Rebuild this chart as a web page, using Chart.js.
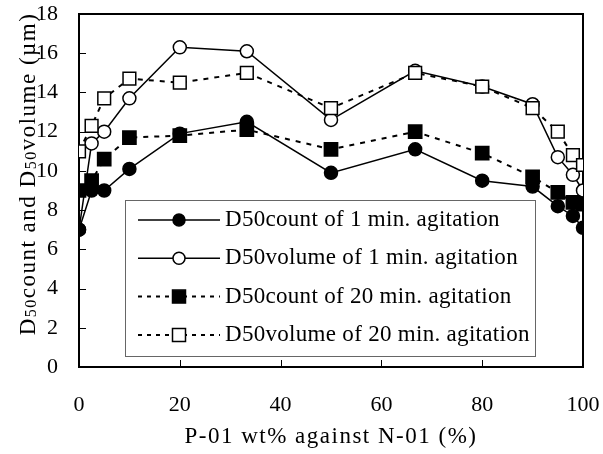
<!DOCTYPE html>
<html>
<head>
<meta charset="utf-8">
<script src="https://cdn.jsdelivr.net/npm/chart.js@4.4.1/dist/chart.umd.min.js"></script>
<style>
  html, body { margin: 0; padding: 0; background: #fff; }
</style>
</head>
<body>
<canvas id="myChart" width="603" height="454"></canvas>
<script>
// P-01 wt% against N-01
var ratio = [0, 2.5, 5, 10, 20, 33.3, 50, 66.7, 80, 90, 95, 98, 100];

var count1min = [7.0, 9.0, 9.0, 10.1, 11.9, 12.5, 9.9, 11.1, 9.5, 9.2, 8.2, 7.7, 7.1];
var volume1min = [7.0, 11.4, 12.0, 13.7, 16.3, 16.1, 12.6, 15.1, 14.3, 13.4, 10.7, 9.8, 9.0];
var count20min = [9.0, 9.5, 10.6, 11.7, 11.8, 12.1, 11.1, 12.0, 10.9, 9.7, 8.9, 8.4, 8.3];
var volume20min = [11.0, 12.3, 13.7, 14.7, 14.5, 15.0, 13.2, 15.0, 14.3, 13.2, 12.0, 10.8, 10.3];

var seriesNames = [
  "D50count of 1 min. agitation",
  "D50volume of 1 min. agitation",
  "D50count of 20 min. agitation",
  "D50volume of 20 min. agitation",
];

var FONT = "Liberation Serif";

function pts(ys) {
  return ys.map(function (y, i) { return { x: ratio[i], y: y }; });
}

var data = {
  datasets: [
    {
      label: seriesNames[0],
      data: pts(count1min),
      borderColor: "#000",
      borderWidth: 1.5,
      pointStyle: "circle",
      pointRadius: 6.5,
      pointBackgroundColor: "#000",
      pointBorderColor: "#000",
      order: 2,
    },
    {
      label: seriesNames[1],
      data: pts(volume1min),
      borderColor: "#000",
      borderWidth: 1.5,
      pointStyle: "circle",
      pointRadius: 6.5,
      pointBackgroundColor: "#fff",
      pointBorderColor: "#000",
      pointBorderWidth: 1.5,
      order: 3,
    },
    {
      label: seriesNames[2],
      data: pts(count20min),
      borderColor: "#000",
      borderWidth: 2,
      borderDash: [5, 6],
      pointStyle: "rect",
      pointRadius: 9,
      pointBackgroundColor: "#000",
      pointBorderColor: "#000",
      order: 1,
    },
    {
      label: seriesNames[3],
      data: pts(volume20min),
      borderColor: "#000",
      borderWidth: 2,
      borderDash: [5, 6],
      pointStyle: "rect",
      pointRadius: 9,
      pointBackgroundColor: "#fff",
      pointBorderColor: "#000",
      pointBorderWidth: 1.5,
      order: 0,
    },
  ],
};

// frame, inward ticks, titles and the legend box inside the plot
var decor = {
  id: "decor",
  beforeDatasetsDraw: function (chart) {
    var ctx = chart.ctx;
    var a = chart.chartArea;
    var xs = chart.scales.x, ys = chart.scales.y;
    ctx.save();
    ctx.strokeStyle = "#000";
    ctx.lineWidth = 1;
    ys.ticks.forEach(function (t) {
      var p = Math.round(ys.getPixelForValue(t.value)) + 0.5;
      ctx.beginPath(); ctx.moveTo(a.left, p); ctx.lineTo(a.left + 7, p); ctx.stroke();
    });
    xs.ticks.forEach(function (t) {
      var p = Math.round(xs.getPixelForValue(t.value)) + 0.5;
      ctx.beginPath(); ctx.moveTo(p, a.bottom); ctx.lineTo(p, a.bottom - 7); ctx.stroke();
    });
    ctx.lineWidth = 2;
    ctx.strokeRect(a.left, a.top, a.right - a.left, a.bottom - a.top);
    ctx.restore();
  },
  afterDraw: function (chart) {
    var ctx = chart.ctx;
    var a = chart.chartArea;
    ctx.save();
    ctx.fillStyle = "#000";

    // x title
    ctx.font = "23px " + FONT;
    ctx.letterSpacing = "1.5px";
    ctx.textAlign = "center";
    ctx.textBaseline = "middle";
    ctx.fillText("P-01 wt% against N-01 (%)", (a.left + a.right) / 2, 437);

    // y title with small 50s
    var parts = [["D", 0], ["50", 1], ["count and D", 0], ["50", 1], ["volume (\u00b5m)", 0]];
    var big = "23px " + FONT, small = "16px " + FONT;
    var total = 0;
    parts.forEach(function (p) { ctx.font = p[1] ? small : big; total += ctx.measureText(p[0]).width; });
    ctx.translate(35, 174);
    ctx.rotate(-Math.PI / 2);
    ctx.textAlign = "left";
    ctx.textBaseline = "alphabetic";
    var cx = -total / 2;
    parts.forEach(function (p) {
      ctx.font = p[1] ? small : big;
      ctx.fillText(p[0], cx, p[1] ? 1 : 0);
      cx += ctx.measureText(p[0]).width;
    });
    ctx.restore();

    // legend
    ctx.save();
    ctx.fillStyle = "#fff";
    ctx.fillRect(125, 200, 410, 156);
    ctx.strokeStyle = "#666";
    ctx.lineWidth = 1;
    ctx.strokeRect(125.5, 200.5, 410, 156);
    chart.data.datasets.forEach(function (ds, i) {
      var y = 220 + i * 38.3;
      ctx.strokeStyle = "#000";
      ctx.lineWidth = ds.borderWidth;
      ctx.setLineDash(ds.borderDash ? [4, 5] : []);
      ctx.beginPath(); ctx.moveTo(138, y); ctx.lineTo(220, y); ctx.stroke();
      ctx.setLineDash([]);
      ctx.fillStyle = ds.pointBackgroundColor;
      ctx.lineWidth = 1.5;
      ctx.beginPath();
      if (ds.pointStyle === "circle") ctx.arc(179, y, 6, 0, Math.PI * 2);
      else ctx.rect(172.5, y - 6.5, 13, 13);
      ctx.fill(); ctx.stroke();
      ctx.fillStyle = "#000";
      ctx.font = "23px " + FONT;
      ctx.letterSpacing = "0.3px";
      ctx.textAlign = "left";
      ctx.textBaseline = "middle";
      ctx.fillText(ds.label, 225, y);
      ctx.letterSpacing = "0px";
    });
    ctx.restore();
  },
};

var options = {
  responsive: false,
  animation: false,
  layout: { padding: { top: 14, right: 20, left: 0, bottom: 0 } },
  plugins: {
    legend: { display: false },
    tooltip: { enabled: false },
  },
  scales: {
    x: {
      type: "linear",
      min: 0,
      max: 100,
      ticks: { stepSize: 20, padding: 25, color: "#000", font: { family: FONT, size: 22 } },
      grid: { display: false, drawTicks: false },
      border: { display: false },
      afterFit: function (s) {
        s.height = 87;
        s.paddingLeft = 0;
        s.paddingRight = 0;
      },
    },
    y: {
      min: 0,
      max: 18,
      ticks: { stepSize: 2, padding: 21, color: "#000", font: { family: FONT, size: 22 } },
      grid: { display: false, drawTicks: false },
      border: { display: false },
      afterFit: function (s) {
        s.width = 79;
        s.paddingTop = 0;
        s.paddingBottom = 0;
      },
    },
  },
};

const ctx = document.getElementById("myChart").getContext("2d");
const myChart = new Chart(ctx, {
  type: "line",
  data: data,
  options: options,
  plugins: [decor],
});
</script>
</body>
</html>
